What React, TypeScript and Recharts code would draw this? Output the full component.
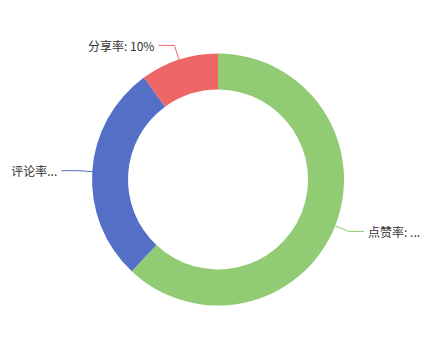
import React from "react";
import { PieChart, Pie, Cell } from "recharts";

const categories = ["点赞率", "评论率", "分享率"];
const values = [62, 28, 10];
const labelTexts = ["点赞率: ...", "评论率...", "分享率: 10%"];
const colors = ["#91cc75", "#5470c6", "#ee6666"];

const data = categories.map((name, i) => ({ name, value: values[i], label: labelTexts[i] }));

const RADIAN = Math.PI / 180;

const renderLabel = (props: any) => {
    const { cx, cy, midAngle, outerRadius, index } = props;
    const cos = Math.cos(-midAngle * RADIAN);
    const sin = Math.sin(-midAngle * RADIAN);
    const x1 = cx + outerRadius * cos;
    const y1 = cy + outerRadius * sin;
    const x2 = cx + (outerRadius + 15) * cos;
    const y2 = cy + (outerRadius + 15) * sin;
    const right = cos >= 0;
    const x3 = x2 + (right ? 15 : -16);
    const tx = x3 + (right ? 4 : -4);
    return (
        <g key={`label-${index}`}>
            <polyline
                points={`${x1},${y1} ${x2},${y2} ${x3},${y2}`}
                fill="none"
                stroke={colors[index]}
                strokeWidth={1}
            />
            <text
                x={tx}
                y={y2}
                textAnchor={right ? "start" : "end"}
                dominantBaseline="central"
                fill="#333"
                fontSize={12}
                fontFamily='"Noto Sans CJK SC", "Noto Sans", sans-serif'
            >
                {data[index].label}
            </text>
        </g>
    );
};

export default function App() {
    return (
        <div style={{ position: "absolute", left: 0, top: 0, width: 436, height: 360, background: "#fff" }}>
            <PieChart width={436} height={360} margin={{ top: 0, right: 0, bottom: 0, left: 0 }}>
                <Pie
                    data={data}
                    dataKey="value"
                    nameKey="name"
                    cx={218}
                    cy={179.5}
                    innerRadius={90}
                    outerRadius={126}
                    startAngle={90}
                    endAngle={-270}
                    stroke="none"
                    label={renderLabel}
                    labelLine={false}
                    isAnimationActive={false}
                >
                    {data.map((d, i) => (
                        <Cell key={d.name} fill={colors[i]} />
                    ))}
                </Pie>
            </PieChart>
        </div>
    );
}
